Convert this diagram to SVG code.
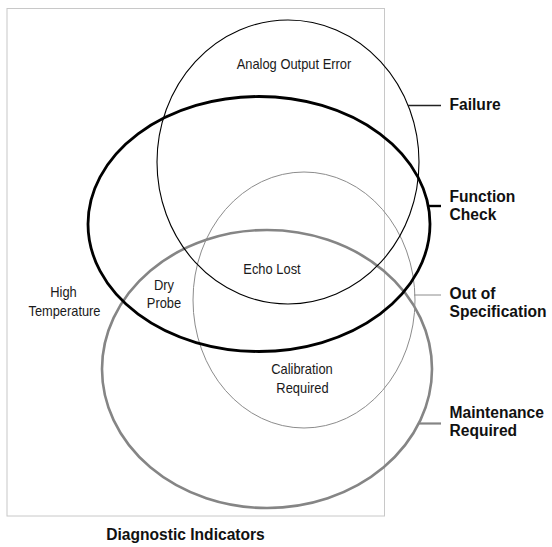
<svg xmlns="http://www.w3.org/2000/svg" width="552" height="547" viewBox="0 0 552 547">
  <style>
    .frame { fill: none; stroke: #c8c8c8; stroke-width: 1; }
    .set { fill: none; }
    .lbl { font-family: "Liberation Sans", Arial, sans-serif; font-size: 14.5px; fill: #1a1a1a; text-anchor: middle; }
    .key { font-family: "Liberation Sans", Arial, sans-serif; font-size: 15.6px; font-weight: bold; fill: #111; }
    .title { font-family: "Liberation Sans", Arial, sans-serif; font-size: 15.6px; font-weight: bold; fill: #111; text-anchor: middle; }
  </style>
  <rect width="552" height="547" fill="#ffffff"/>
  <rect class="frame" x="7" y="8.5" width="377.5" height="507.5"/>

  <g id="maintenance-required">
    <ellipse class="set" cx="267" cy="369" rx="165" ry="139" stroke="#858585" stroke-width="2.6"/>
  </g>
  <g id="out-of-specification">
    <ellipse class="set" cx="304" cy="300" rx="111" ry="128" stroke="#8c8c8c" stroke-width="1"/>
  </g>
  <g id="failure">
    <ellipse class="set" cx="288" cy="162" rx="131" ry="142" stroke="#000" stroke-width="1.1"/>
  </g>
  <g id="function-check">
    <ellipse class="set" cx="259" cy="224" rx="171" ry="127.5" stroke="#000" stroke-width="2.8"/>
  </g>

  <g id="connectors">
    <line x1="408" y1="105.5" x2="441" y2="105.5" stroke="#222" stroke-width="1.3"/>
    <line x1="428" y1="206" x2="441" y2="206" stroke="#000" stroke-width="2.4"/>
    <line x1="414" y1="295" x2="441" y2="295" stroke="#8c8c8c" stroke-width="1"/>
    <line x1="419" y1="423.5" x2="441" y2="423.5" stroke="#858585" stroke-width="2.2"/>
  </g>

  <g id="region-labels">
    <text class="lbl" x="294" y="69" textLength="114.7" lengthAdjust="spacingAndGlyphs">Analog Output Error</text>
    <text class="lbl" x="272" y="274" textLength="57.4" lengthAdjust="spacingAndGlyphs">Echo Lost</text>
    <text class="lbl" x="164" y="290" textLength="20.1" lengthAdjust="spacingAndGlyphs">Dry</text>
    <text class="lbl" x="164" y="308" textLength="34.4" lengthAdjust="spacingAndGlyphs">Probe</text>
    <text class="lbl" x="63.5" y="297" textLength="26.5" lengthAdjust="spacingAndGlyphs">High</text>
    <text class="lbl" x="64.5" y="316" textLength="72" lengthAdjust="spacingAndGlyphs">Temperature</text>
    <text class="lbl" x="302" y="374" textLength="61.6" lengthAdjust="spacingAndGlyphs">Calibration</text>
    <text class="lbl" x="302.5" y="393" textLength="52.3" lengthAdjust="spacingAndGlyphs">Required</text>
  </g>

  <g id="legend-labels">
    <text class="key" x="449.5" y="110">Failure</text>
    <text class="key" x="449.5" y="202">Function</text>
    <text class="key" x="449.5" y="220">Check</text>
    <text class="key" x="449.5" y="299">Out of</text>
    <text class="key" x="449.5" y="317">Specification</text>
    <text class="key" x="449.5" y="418">Maintenance</text>
    <text class="key" x="449.5" y="436">Required</text>
  </g>

  <g id="title">
    <text class="title" x="185.5" y="540">Diagnostic Indicators</text>
  </g>
</svg>
